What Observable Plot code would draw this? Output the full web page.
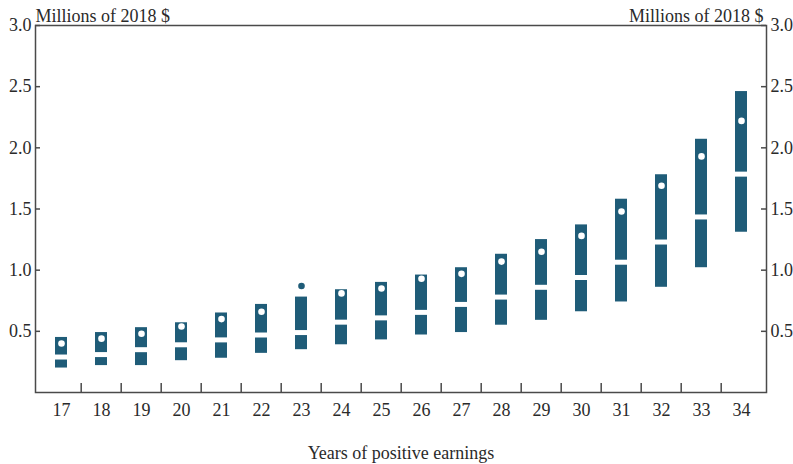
<!DOCTYPE html>
<html><head><meta charset="utf-8">
<script src="https://cdn.jsdelivr.net/npm/d3@7"></script>
<script src="https://cdn.jsdelivr.net/npm/@observablehq/plot@0.6"></script>
<style>body{margin:0;background:#fff}</style>
</head><body><div id="chart"></div>
<script>
const years  = [17,18,19,20,21,22,23,24,25,26,27,28,29,30,31,32,33,34];
const low    = [0.20,0.22,0.22,0.26,0.28,0.32,0.35,0.39,0.43,0.47,0.49,0.55,0.59,0.66,0.74,0.86,1.02,1.31];
const high   = [0.45,0.49,0.53,0.57,0.65,0.72,0.78,0.84,0.90,0.96,1.02,1.13,1.25,1.37,1.58,1.78,2.07,2.46];
const median = [0.29,0.31,0.35,0.39,0.43,0.47,0.49,0.575,0.61,0.655,0.72,0.78,0.86,0.94,1.065,1.23,1.435,1.785];
const mean   = [0.40,0.44,0.48,0.54,0.60,0.66,0.87,0.81,0.85,0.93,0.97,1.07,1.15,1.28,1.48,1.69,1.93,2.22];
const yTicks = [0.5,1.0,1.5,2.0,2.5,3.0];
const unitLabel = "Millions of 2018 $";
const xLabel = "Years of positive earnings";

const rows = years.map((year,i)=>({year, low:low[i], high:high[i], median:median[i], mean:mean[i]}));

const blue = "#1f5c78";
const axisColor = "#4a4a4a";
const textColor = "#2a2a2a";
const fs = 18;
const W=793,H=464,mL=35,mR=27,mT=25,mB=72;
const plotW=W-mL-mR, plotH=H-mT-mB, step=plotW/years.length;

const chart = Plot.plot({
  width:W, height:H, marginLeft:mL, marginRight:mR, marginTop:mT, marginBottom:mB,
  style:{fontFamily:"'Liberation Serif', serif", fontSize:fs+"px", color:textColor, background:"white", overflow:"visible"},
  x:{type:"band", domain:years, padding:0},
  y:{domain:[0,3]},
  marks:[
    Plot.barY(rows,{x:"year", y1:"low", y2:"high", fill:blue, insetLeft:14, insetRight:14}),
    Plot.tickY(rows,{x:"year", y:"median", stroke:"white", strokeWidth:5, insetLeft:14, insetRight:14}),
    Plot.dot(rows,{x:"year", y:"mean", r:3.3, fill:d=>d.mean>d.high?blue:"white"}),
    Plot.axisX({tickSize:0, tickPadding:11, label:xLabel, labelAnchor:"center", labelOffset:66, fontSize:fs}),
    Plot.ruleX(years.slice(1),{x:d=>d, dx:-step/2, insetTop:plotH-9, stroke:axisColor, strokeWidth:1.5}),
    Plot.axisY(yTicks,{anchor:"left", tickSize:0, tickPadding:4, tickFormat:d=>d.toFixed(1), label:null, fontSize:fs}),
    Plot.axisY(yTicks,{anchor:"right", tickSize:0, tickPadding:4, tickFormat:d=>d.toFixed(1), label:null, fontSize:fs}),
    Plot.ruleY(yTicks,{y:d=>d, insetRight:plotW-5, stroke:axisColor, strokeWidth:1.5}),
    Plot.ruleY(yTicks,{y:d=>d, insetLeft:plotW-5, stroke:axisColor, strokeWidth:1.5}),
    Plot.frame({stroke:axisColor, strokeWidth:1.5}),
    Plot.text([unitLabel],{frameAnchor:"top-left", textAnchor:"start", lineAnchor:"bottom", dy:-4, fontSize:fs, fill:textColor}),
    Plot.text([unitLabel],{frameAnchor:"top-right", textAnchor:"end", lineAnchor:"bottom", dy:-4, dx:-3, fontSize:fs, fill:textColor})
  ]
});
document.getElementById("chart").appendChild(chart);
</script>
</body></html>
